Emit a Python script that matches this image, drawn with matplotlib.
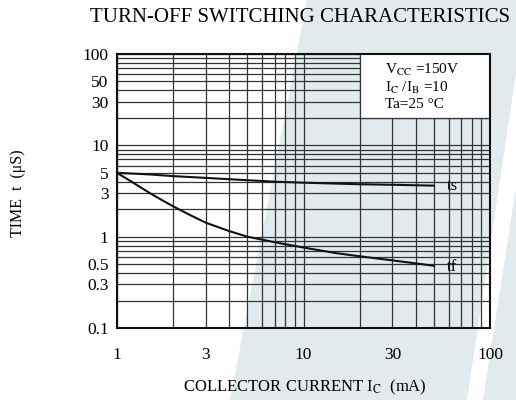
import matplotlib
matplotlib.use("Agg")
import matplotlib.pyplot as plt
from matplotlib.patches import Polygon, Rectangle
from matplotlib.ticker import NullFormatter, LogLocator

plt.rcParams['font.family'] = ['Liberation Serif', 'DejaVu Serif']
plt.rcParams['mathtext.fontset'] = 'stix'

# data
ic_ts = [1, 1.5, 2, 3, 5, 7, 10, 20, 30, 50]
t_s = [5.0, 4.8, 4.6, 4.4, 4.15, 4.0, 3.9, 3.75, 3.7, 3.62]
ic_tf = [1, 1.15, 1.3, 1.5, 1.75, 2, 2.5, 3, 4, 5, 7, 10, 15, 20, 30, 40, 50]
t_f = [5.0, 4.2, 3.6, 3.0, 2.5, 2.15, 1.7, 1.42, 1.15, 1.0, 0.87, 0.76, 0.66, 0.61, 0.55, 0.51, 0.48]
x_ticks = [1, 3, 10, 30, 100]
x_ticklabels = ["1", "3", "10", "30", "100"]
y_ticks = [0.1, 0.3, 0.5, 1, 3, 5, 10, 30, 50, 100]
y_ticklabels = ["0.1", "0.3", "0.5", "1", "3", "5", "10", "30", "50", "100"]
conditions = [r"V$_{\mathrm{CC}}$ =150V", r"I$_{\mathrm{C}}$ /I$_{\mathrm{B}}$ =10", "Ta=25 °C"]

W, H = 516, 400
fig = plt.figure(figsize=(W / 100, H / 100), dpi=100)
fig.patch.set_facecolor('white')

# background watermark layer
bg = fig.add_axes([0, 0, 1, 1], zorder=-5)
bg.set_xlim(0, W)
bg.set_ylim(H, 0)
bg.axis('off')
shade = '#e2eaee'
bg.add_patch(Polygon([(307, 0), (540, 0), (527, 0), (467, 400), (230, 400)],
                     closed=True, facecolor=shade, edgecolor='none'))
bg.add_patch(Polygon([(525, 130), (560, 130), (560, 400), (483, 400)],
                     closed=True, facecolor=shade, edgecolor='none'))

ax = fig.add_axes([117 / W, 1 - 328 / H, (490 - 117) / W, (328 - 54) / H], zorder=1)
ax.set_facecolor('none')
ax.set_xscale('log')
ax.set_yscale('log')
ax.set_xlim(1, 100)
ax.set_ylim(0.1, 100)

gc = '#333333'
ax.xaxis.set_minor_locator(LogLocator(base=10, subs=range(2, 10)))
ax.yaxis.set_minor_locator(LogLocator(base=10, subs=range(2, 10)))
ax.grid(True, which='both', color=gc, linewidth=0.9)
ax.set_axisbelow(True)
ax.xaxis.set_minor_formatter(NullFormatter())
ax.yaxis.set_minor_formatter(NullFormatter())

# white condition box over the grid
ax.add_patch(Rectangle((20, 20), 80, 80, facecolor='white', edgecolor='none', zorder=1.5))
ax.plot([20, 20], [20, 100], color=gc, lw=0.9, zorder=1.6)
ax.plot([20, 100], [20, 20], color=gc, lw=0.9, zorder=1.6)

ax.set_xticks(x_ticks)
ax.set_xticklabels(x_ticklabels)
ax.set_yticks(y_ticks)
ax.set_yticklabels(y_ticklabels)
ax.tick_params(which='both', length=0)
ax.tick_params(axis='x', pad=14, labelsize=12.5)
ax.tick_params(axis='y', pad=6, labelsize=12.5)
for s in ax.spines.values():
    s.set_linewidth(1.5)
    s.set_color('#111111')
    s.set_zorder(3)

ax.plot(ic_ts, t_s, color='#111111', lw=1.5, zorder=2)
ax.plot(ic_tf, t_f, color='#111111', lw=1.5, zorder=2)
ax.text(59, 3.62, "ts", fontsize=12, va='center', ha='left', zorder=4)
ax.text(59, 0.47, "tf", fontsize=12, va='center', ha='left', zorder=4)

ytxt = [70, 88, 105]
for s, yy in zip(conditions, ytxt):
    fig.text(385 / W, 1 - yy / H, s, fontsize=11, va='center', ha='left')

fig.text(300 / W, 1 - 17 / H, "TURN-OFF SWITCHING CHARACTERISTICS", fontsize=15,
         ha='center', va='center')
fig.text(18 / W, 1 - 193 / H, "TIME  t  (μS)", fontsize=11.5, rotation=90,
         ha='center', va='center')
fig.text(305 / W, 1 - 387 / H, r"COLLECTOR CURRENT I$_{\mathrm{C}}$  (mA)", fontsize=12,
         ha='center', va='center')

fig.savefig("out.png", dpi=100)
